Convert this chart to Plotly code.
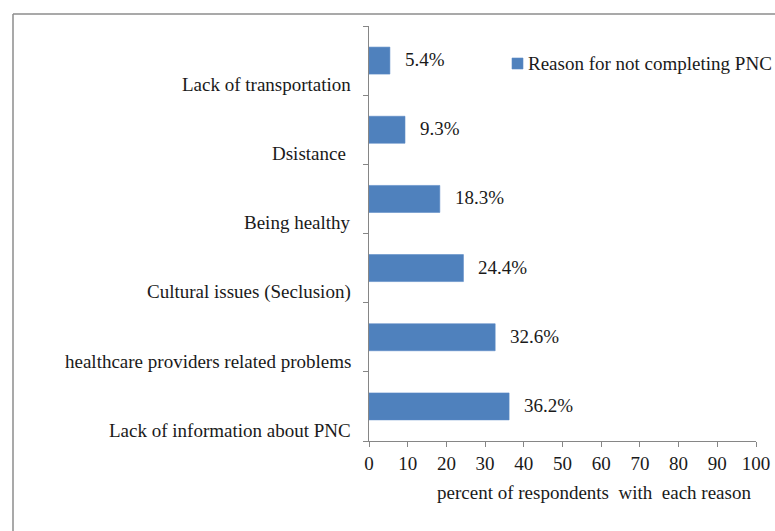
import plotly.graph_objects as go

# Reasons, listed bottom-to-top as they appear on the category axis
reasons = [
    "Lack of information about PNC",
    "healthcare providers related problems",
    "Cultural issues (Seclusion)",
    "Being healthy",
    "Dsistance\u00a0",
    "Lack of transportation",
]
percents = [36.2, 32.6, 24.4, 18.3, 9.3, 5.4]
x_ticks = [0, 10, 20, 30, 40, 50, 60, 70, 80, 90, 100]
series_name = "Reason for not completing PNC"
x_title = "percent of respondents\u00a0 with\u00a0 each reason"

W, H = 775, 531
L, R, T, B = 369, 19, 26, 90
FONT = "Liberation Serif"
TXT = "#1a1a1a"
BLUE = "#4F81BD"
GREY = "#868686"
FS = 19


def px_x(p):
    return (p - L) / (W - L - R)


def px_y(p):
    return 1 - (p - T) / (H - T - B)


fig = go.Figure()
fig.add_trace(go.Bar(
    y=reasons,
    x=percents,
    orientation="h",
    name=series_name,
    width=0.39,
    marker=dict(color=BLUE, line=dict(color="#5A8AC6", width=0.6)),
    showlegend=False,
))

annotations = []
# value labels to the right of each bar
for r, v in zip(reasons, percents):
    annotations.append(dict(
        x=v, y=r, xref="x", yref="y", text=f"{v}%", showarrow=False,
        xanchor="left", yanchor="middle", xshift=13, yshift=1,
        font=dict(family=FONT, size=FS, color=TXT),
    ))
# category labels sit slightly below their bars
for r in reasons:
    annotations.append(dict(
        x=0, y=r, xref="paper", yref="y", text=r, showarrow=False,
        xanchor="right", yanchor="middle", xshift=-16, yshift=-24,
        font=dict(family=FONT, size=FS, color=TXT),
    ))
# axis title, right-aligned under the scale
annotations.append(dict(
    x=px_x(753), y=px_y(492), xref="paper", yref="paper", text=x_title,
    showarrow=False, xanchor="right", yanchor="middle",
    font=dict(family=FONT, size=FS, color=TXT),
))
# legend entry text
annotations.append(dict(
    x=px_x(526), y=px_y(64), xref="paper", yref="paper", text=series_name,
    showarrow=False, xanchor="left", yanchor="middle",
    font=dict(family=FONT, size=FS, color=TXT),
))

shapes = [
    # outer chart frame (left and top edges)
    dict(type="line", xref="paper", yref="paper",
         x0=px_x(13), x1=px_x(13), y0=px_y(14), y1=px_y(H + 5),
         line=dict(color="#8c8c8c", width=1.5)),
    dict(type="line", xref="paper", yref="paper",
         x0=px_x(13), x1=px_x(W + 5), y0=px_y(14), y1=px_y(14),
         line=dict(color="#8c8c8c", width=1.5)),
    # legend swatch
    dict(type="rect", xref="paper", yref="paper",
         x0=px_x(512), x1=px_x(523), y0=px_y(69), y1=px_y(58),
         fillcolor=BLUE, line=dict(color="#5A8AC6", width=0.6)),
]

fig.update_layout(
    width=W, height=H,
    margin=dict(l=L, r=R, t=T, b=B, autoexpand=False),
    paper_bgcolor="white", plot_bgcolor="white",
    font=dict(family=FONT, size=FS, color=TXT),
    bargap=0.61,
    showlegend=False,
    annotations=annotations,
    shapes=shapes,
    xaxis=dict(
        range=[0, 100], tickvals=x_ticks, ticktext=[str(t) for t in x_ticks],
        showgrid=False, zeroline=False,
        showline=True, linecolor=GREY, linewidth=1,
        ticks="outside", ticklen=5, tickcolor=GREY, tickwidth=1,
        tickfont=dict(family=FONT, size=FS, color=TXT),
    ),
    yaxis=dict(
        type="category", categoryorder="array", categoryarray=reasons,
        range=[-0.5, 5.5], showticklabels=False,
        showgrid=False, zeroline=False,
        showline=True, linecolor=GREY, linewidth=1,
        ticks="outside", ticklen=5, tickcolor=GREY, tickwidth=1,
        tickson="boundaries",
    ),
)

fig.write_html("out.html")
